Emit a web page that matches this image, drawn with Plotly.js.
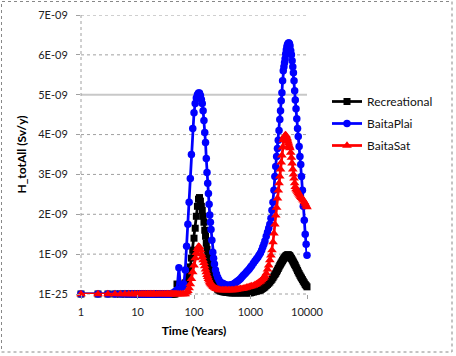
<!DOCTYPE html>
<html>
<head>
<meta charset="utf-8">
<script src="https://cdn.plot.ly/plotly-3.0.1.min.js"></script>
<style>
  html, body { margin: 0; padding: 0; background: #fff; }
  #chart { width: 456px; height: 356px; }
</style>
</head>
<body>
<div id="chart"></div>
<script>
// Time points (years)
const time = [
  1, 2, 3, 4, 5, 6, 7, 8, 9, 10,
  11, 12, 13, 14, 15, 16, 17, 18, 19, 20,
  22, 24, 26, 28, 30, 32, 34, 36, 38, 40,
  42, 44, 46, 48, 50,
  54, 58, 62, 66, 70, 74, 78, 82, 86, 90,
  95, 100, 105, 110, 115, 120, 125, 130, 135, 140,
  145, 150, 155, 160, 165, 170, 175, 180, 185, 190,
  195, 200, 207, 215, 222, 230, 240, 250, 262, 275,
  287, 300,
  320, 340, 360, 380, 405, 430, 455, 480, 510, 540,
  570, 600, 635, 670, 710, 750, 800, 850, 900, 950,
  1000, 1050, 1125, 1200, 1275, 1350, 1425, 1500, 1575, 1650,
  1725, 1800, 1900, 2000, 2100, 2200, 2300, 2400, 2500, 2600,
  2700, 2800, 2900, 3000, 3100, 3200, 3300, 3400, 3500, 3600,
  3700, 3800, 3900, 4000, 4100, 4200, 4300, 4400, 4500, 4600,
  4700, 4800, 4900, 5000, 5150, 5300, 5450, 5600, 5750, 5900,
  6050, 6200, 6400, 6600, 6800, 7000, 7250, 7500, 7750, 8000,
  8300, 8600, 8950, 9300, 9650, 10000];

// Values in units of 1E-09 Sv/y
const recreational = [
  0, 0, 0, 0, 0, 0, 0, 0, 0, 0,
  0, 0, 0, 0, 0, 0, 0, 0, 0, 0,
  0, 0, 0, 0, 0, 0, 0, 0, 0, 0,
  0, 0, 0, 0.05, 0.25,
  0.12, 0.15, 0.2, 0.25, 0.28, 0.3, 0.36, 0.45, 0.68, 0.9,
  1.1, 1.4, 1.65, 1.95, 2.2, 2.38, 2.42, 2.33, 2.2, 2.1,
  1.95, 1.8, 1.6, 1.45, 1.28, 1.12, 1.0, 0.9, 0.78, 0.68,
  0.6, 0.52, 0.44, 0.35, 0.3, 0.24, 0.2, 0.16, 0.12, 0.1,
  0.08, 0.07,
  0.06, 0.05, 0.05, 0.04, 0.04, 0.03, 0.03, 0.03, 0.03, 0.03,
  0.03, 0.03, 0.03, 0.03, 0.03, 0.03, 0.03, 0.03, 0.03, 0.03,
  0.03, 0.04, 0.05, 0.06, 0.07, 0.08, 0.09, 0.1, 0.12, 0.14,
  0.16, 0.18, 0.21, 0.24, 0.27, 0.3, 0.34, 0.37, 0.41, 0.45,
  0.49, 0.52, 0.56, 0.6, 0.64, 0.68, 0.72, 0.75, 0.78, 0.81,
  0.84, 0.87, 0.89, 0.91, 0.93, 0.95, 0.96, 0.97, 0.98, 0.98,
  0.98, 0.97, 0.96, 0.95, 0.92, 0.89, 0.86, 0.83, 0.8, 0.77,
  0.74, 0.71, 0.67, 0.63, 0.59, 0.55, 0.51, 0.47, 0.43, 0.4,
  0.36, 0.32, 0.28, 0.24, 0.21, 0.18];

const baitaPlai = [
  0, 0, 0, 0, 0, 0, 0, 0, 0, 0,
  0, 0, 0, 0, 0, 0, 0, 0, 0, 0,
  0, 0, 0, 0, 0, 0, 0, 0, 0, 0.01,
  0.02, 0.03, 0.05, 0.07, 0.1,
  0.66, 0.12, 0.18, 0.25, 0.6, 1.2, 1.75, 2.3, 2.9, 3.5,
  4.15, 4.55, 4.78, 4.92, 5.0, 5.04, 5.04, 4.98, 4.88, 4.78,
  4.6, 4.35, 4.05, 3.8, 3.4, 3.05, 2.78, 2.52, 2.25, 1.98,
  1.8, 1.62, 1.35, 1.05, 0.9, 0.75, 0.6, 0.5, 0.42, 0.36,
  0.31, 0.28,
  0.27, 0.25, 0.23, 0.22, 0.22, 0.22, 0.23, 0.24, 0.26, 0.28,
  0.31, 0.33, 0.36, 0.39, 0.43, 0.47, 0.51, 0.55, 0.59, 0.63,
  0.67, 0.71, 0.77, 0.83, 0.88, 0.92, 0.98, 1.03, 1.1, 1.18,
  1.25, 1.33, 1.45, 1.55, 1.65, 1.75, 1.9, 2.1, 2.3, 2.6,
  2.95, 3.2, 3.45, 3.65, 3.86, 4.1, 4.38, 4.6, 4.85, 5.05,
  5.35, 5.6, 5.7, 5.8, 5.9, 6.02, 6.12, 6.2, 6.25, 6.28,
  6.3, 6.3, 6.27, 6.22, 6.1, 6.0, 5.85, 5.7, 5.55, 5.35,
  5.1, 4.87, 4.65, 4.4, 4.15, 3.95, 3.7, 3.45, 3.25, 2.95,
  2.6, 2.2, 1.85, 1.5, 1.25, 0.97];

const baitaSat = [
  0, 0, 0, 0, 0, 0, 0, 0, 0, 0,
  0, 0, 0, 0, 0, 0, 0, 0, 0, 0,
  0, 0, 0, 0, 0, 0, 0, 0, 0, 0,
  0, 0, 0, 0, 0,
  0, 0, 0, 0, 0, 0.04, 0.08, 0.15, 0.25, 0.38,
  0.55, 0.72, 0.9, 1.03, 1.13, 1.19, 1.18, 1.1, 1.0, 0.93,
  0.85, 0.78, 0.7, 0.62, 0.55, 0.48, 0.43, 0.38, 0.34, 0.3,
  0.27, 0.25, 0.22, 0.2, 0.18, 0.16, 0.14, 0.13, 0.12, 0.11,
  0.1, 0.1,
  0.1, 0.1, 0.1, 0.1, 0.1, 0.1, 0.1, 0.1, 0.1, 0.11,
  0.11, 0.12, 0.12, 0.13, 0.13, 0.14, 0.15, 0.16, 0.17, 0.18,
  0.19, 0.2, 0.21, 0.23, 0.25, 0.27, 0.3, 0.32, 0.35, 0.38,
  0.41, 0.45, 0.52, 0.62, 0.72, 0.85, 0.97, 1.1, 1.3, 1.52,
  1.75, 1.97, 2.17, 2.4, 2.6, 2.78, 2.95, 3.13, 3.3, 3.48,
  3.68, 3.86, 3.92, 3.96, 3.98, 3.99, 3.96, 3.92, 3.88, 3.83,
  3.78, 3.73, 3.7, 3.66, 3.55, 3.42, 3.28, 3.13, 3.0, 2.9,
  2.78, 2.69, 2.63, 2.6, 2.57, 2.53, 2.5, 2.47, 2.44, 2.41,
  2.38, 2.35, 2.31, 2.27, 2.22, 2.18];

const seriesNames = ["Recreational", "BaitaPlai", "BaitaSat"];
const xTickVals = [1, 10, 100, 1000, 10000];
const xTickText = ["1", "10", "100", "1000", "10000"];
const yTickVals = [0, 1e-9, 2e-9, 3e-9, 4e-9, 5e-9, 6e-9, 7e-9];
const yTickText = ["1E-25", "1E-09", "2E-09", "3E-09", "4E-09", "5E-09", "6E-09", "7E-09"];

const scale = v => v.map(x => x * 1e-9);

function mk(name, ys, color, symbol, size, group) {
  return {
    x: time, y: scale(ys), name: name, type: 'scatter', mode: 'lines+markers',
    line: {color: color, width: 2.75},
    marker: {color: color, symbol: symbol, size: size, line: {width: 0}},
    cliponaxis: false, legendgroup: group
  };
}

const data = [
  mk(seriesNames[0], recreational, '#000000', 'square', 7, 'a'),
  mk(seriesNames[1], baitaPlai, '#0000FF', 'circle', 7.5, 'b'),
  mk(seriesNames[2], baitaSat, '#FF0000', 'triangle-up', 8.5, 'c')
];

const L = 81, W = 226, T = 15, H = 279;
const px = v => (v - L) / W;
const py = v => (T + H - v) / H;

const shapes = [];
yTickVals.forEach(v => {
  if (v <= 0) return;
  const solid = Math.abs(v - 5e-9) < 1e-12;
  shapes.push({type: 'line', xref: 'paper', yref: 'y', x0: 0, x1: 1, y0: v, y1: v, layer: 'below',
    line: solid ? {color: '#c8c8c8', width: 2} : {color: '#a0a0a0', width: 1, dash: 'dot'}});
});
shapes.push(
  {type: 'line', xref: 'paper', yref: 'paper', x0: 0, x1: 0, y0: 0, y1: 1,
    line: {color: '#a0a0a0', width: 1, dash: 'dot'}, layer: 'below'},
  {type: 'line', xref: 'paper', yref: 'paper', x0: 0, x1: 1, y0: 0, y1: 0,
    line: {color: '#a0a0a0', width: 1, dash: 'dot'}, layer: 'below'},
  {type: 'rect', xref: 'paper', yref: 'paper',
    x0: px(1.5), x1: px(452), y0: py(352), y1: py(1.5),
    line: {color: '#888', width: 1, dash: 'dot'}, layer: 'below'}
);

const layout = {
  width: 456, height: 356,
  margin: {l: 81, r: 149, t: 15, b: 62, pad: 0},
  paper_bgcolor: '#ffffff', plot_bgcolor: '#ffffff',
  font: {family: 'Lato, "Open Sans", sans-serif', size: 11, color: '#222'},
  showlegend: true,
  legend: {
    x: px(327), y: py(87), xanchor: 'left', yanchor: 'top',
    font: {family: 'Lato, sans-serif', size: 12, color: '#111'},
    traceorder: 'grouped', tracegroupgap: 3, bgcolor: 'rgba(0,0,0,0)'
  },
  xaxis: {
    type: 'log', range: [0, 4],
    tickvals: xTickVals, ticktext: xTickText,
    showgrid: false, zeroline: false, showline: false,
    ticks: 'outside', ticklen: 4, tickcolor: '#a0a0a0',
    ticklabelstandoff: 4,
    tickfont: {family: 'Lato, sans-serif', size: 11, color: '#222'},
    title: {text: 'Time (Years)', standoff: 9,
      font: {family: 'Lato, sans-serif', size: 12, color: '#000', weight: 'bold'}}
  },
  yaxis: {
    range: [0, 7e-9],
    tickvals: yTickVals, ticktext: yTickText,
    showgrid: false, zeroline: false, showline: false,
    ticks: 'outside', ticklen: 4, tickcolor: '#a0a0a0',
    ticklabelstandoff: 6,
    tickfont: {family: 'Lato, sans-serif', size: 11, color: '#222'},
    title: {text: 'H_totAll (Sv/y)', standoff: 9,
      font: {family: 'Lato, sans-serif', size: 12, color: '#000', weight: 'bold'}}
  },
  shapes: shapes
};

Plotly.newPlot('chart', data, layout, {displayModeBar: false, staticPlot: true});
</script>
</body>
</html>
